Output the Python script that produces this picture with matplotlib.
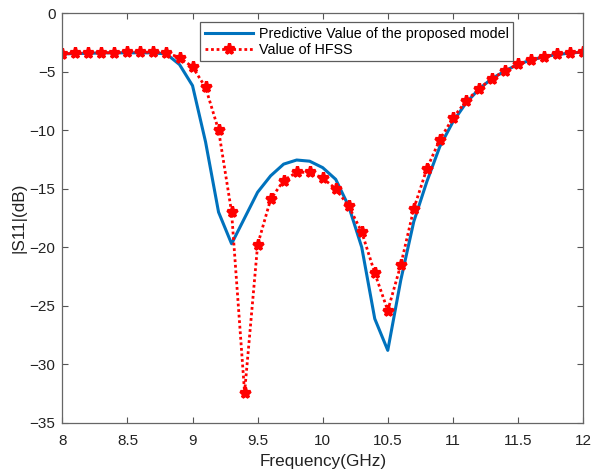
import matplotlib
matplotlib.use("Agg")
import matplotlib.pyplot as plt
import numpy as np

freq = np.round(np.arange(8.0, 12.0001, 0.1), 1)

pred = [-3.5, -3.45, -3.45, -3.4, -3.4, -3.4, -3.4, -3.4, -3.5, -4.4,
        -6.2, -11.0, -17.0, -19.7, -17.5, -15.3, -13.9, -12.9, -12.55, -12.65,
        -13.2, -14.2, -16.5, -20.0, -26.1, -28.8, -22.8, -17.8, -14.4, -11.4,
        -9.3, -7.7, -6.5, -5.6, -4.95, -4.38, -4.02, -3.73, -3.55, -3.42, -3.33]

hfss = [-3.5, -3.45, -3.45, -3.4, -3.4, -3.35, -3.35, -3.35, -3.4, -3.8,
        -4.6, -6.35, -10.0, -17.0, -32.4, -19.8, -15.9, -14.3, -13.6, -13.6,
        -14.1, -15.0, -16.5, -18.7, -22.2, -25.4, -21.5, -16.7, -13.3, -10.8,
        -8.97, -7.54, -6.46, -5.61, -4.93, -4.38, -4.04, -3.73, -3.53, -3.42, -3.33]

xticks = [8, 8.5, 9, 9.5, 10, 10.5, 11, 11.5, 12]
xticklabels = ["8", "8.5", "9", "9.5", "10", "10.5", "11", "11.5", "12"]
yticks = [-35, -30, -25, -20, -15, -10, -5, 0]

plt.rcParams['font.family'] = ['Liberation Sans', 'DejaVu Sans']

fig = plt.figure(figsize=(5.94, 4.75), dpi=100)
ax = fig.add_axes([0.105, 0.1095, 0.8765, 0.8631])

ax.plot(freq, pred, color=(0.0, 0.447, 0.741), lw=2.2,
        label="Predictive Value of the proposed model")
ax.plot(freq, hfss, color='red', lw=2.0, ls=(0, (1, 1)), marker='*',
        ms=8, mew=2.3, mfc='red', mec='red',
        label="Value of HFSS")

ax.set_xlim(8, 12)
ax.set_ylim(-35, 0)
ax.set_xticks(xticks)
ax.set_xticklabels(xticklabels)
ax.set_yticks(yticks)
ax.tick_params(direction='in', top=True, right=True, length=4,
               color='#555555', labelsize=11, labelcolor='#222222')
ax.tick_params(axis='x', pad=8)
ax.tick_params(axis='y', pad=5)
for s in ax.spines.values():
    s.set_color('#666666')
    s.set_linewidth(0.9)

ax.set_xlabel("Frequency(GHz)", fontsize=12.3, color='#222222', labelpad=4)
ax.set_ylabel("|S11|(dB)", fontsize=12.3, color='#222222', labelpad=2)

leg = ax.legend(loc='upper left', bbox_to_anchor=(0.265, 0.977), fontsize=10.25,
                frameon=True, fancybox=False, edgecolor='#333333',
                handlelength=3.4, handletextpad=0.4, borderpad=0.3,
                labelspacing=0.15, borderaxespad=0)
leg.get_frame().set_linewidth(0.9)

fig.savefig("out.png", dpi=100)
